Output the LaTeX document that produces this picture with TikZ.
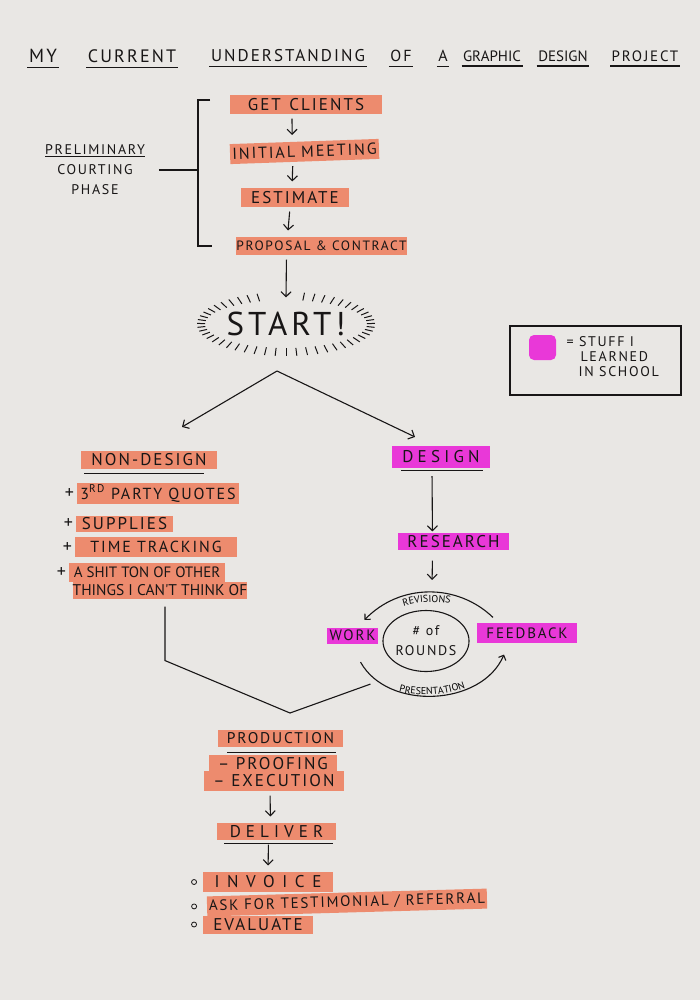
\documentclass[tikz,border=0pt]{standalone}
\usepackage{fontspec}
\newfontfamily\hand[LetterSpace=12]{PT Sans}
\newfontfamily\handtight{PT Sans}
\usetikzlibrary{positioning, arrows.meta, calc, shapes.geometric, decorations.text}

\definecolor{paper}{RGB}{233,231,228}
\definecolor{peach}{RGB}{237,139,110}
\definecolor{magentahl}{RGB}{233,56,216}
\definecolor{ink}{RGB}{24,22,22}

\begin{document}
\begin{tikzpicture}[x=1pt, y=-1pt, line width=1.1pt, color=ink,
        fs/.style={font=\hand\fontsize{#1pt}{#1pt}\selectfont},
        fst/.style={font=\handtight\fontsize{#1pt}{#1pt}\selectfont},
        note/.style={font=\hand\fontsize{14pt}{20pt}\selectfont, align=center},
        hl/.style={fill=peach, inner sep=0pt, fs=17},
        pk/.style={hl, fill=magentahl},
        arr/.style={-{Straight Barb[length=5pt, width=10pt]}, shorten <=4pt, shorten >=6pt},
        bul/.style={circle, draw, line width=0.8pt, minimum size=5pt, inner sep=0pt},
        tick/.style={line width=1pt},
    ]
    % paper
    \fill[paper] (0,0) rectangle (700,1000);

    % title, one underline per word
    \foreach \w/\x/\s/\f in {MY/43/19/\hand, CURRENT/132/18/\hand, UNDERSTANDING/288/17/\hand,
            OF/401/16/\hand, A/443/16/\hand, GRAPHIC/492/15/\handtight, DESIGN/563/15/\handtight, PROJECT/645/15/\hand}{
        \node[font=\f\fontsize{\s pt}{\s pt}\selectfont, inner sep=1pt] (t\w) at (\x,56) {\w};
        \draw ([yshift=-3pt]t\w.south west) -- ([yshift=-3pt]t\w.south east);
    }

    % preliminary courting phase
    \node[hl, minimum width=152pt, minimum height=19pt] (clients) at (306,104.5) {GET\enspace CLIENTS};
    \node[hl, minimum width=149pt, minimum height=20pt, rotate=2, fs=16] (meeting) at (304.5,151.5) {INITIAL MEETING};
    \node[hl, minimum width=108pt, minimum height=19pt] (estimate) at (295,197.5) {ESTIMATE};
    \node[hl, minimum width=171pt, minimum height=18pt, fs=13.5] (proposal) at (321.5,246) {PROPOSAL \& CONTRACT};
    \draw[arr] ([xshift=-14pt]clients.south) -- ([xshift=-12pt]meeting.north);
    \draw[arr] ([xshift=-12pt]meeting.south) -- ([xshift=-3pt]estimate.north);
    \draw[arr] ([xshift=-5pt]estimate.south) -- ([xshift=-34pt]proposal.north);

    \node[note] (phase) at (95,170) {\underline{PRELIMINARY}\\COURTING\\PHASE};
    \coordinate (brtop) at (198,100);
    \coordinate (brbot) at (198,246);
    \draw ([xshift=12pt]brtop) -- (brtop) -- (brbot) -- ([xshift=14pt]brbot);
    \draw ([xshift=10pt]phase.east) -- (phase.east -| brtop);

    % start
    \node[ellipse, minimum width=162pt, minimum height=48pt, fs=33, inner sep=0pt] (start) at (286,324) {START!};
    \foreach \a in {282,289,...,612}
        \draw[tick] ($(start.center)+({81*cos(\a)},{24*sin(\a)})$) -- ($(start.center)+({89*cos(\a)},{32*sin(\a)})$);
    \draw[arr, shorten >=0pt] ([xshift=-35pt]proposal.south) -- ([yshift=2pt]start.north);

    % legend
    \node[draw, minimum width=171pt, minimum height=69pt] (legend) at (595.5,360.5) {};
    \node[fill=magentahl, minimum width=27pt, minimum height=25pt, rounded corners=5pt, inner sep=0pt] (swatch) at (542.5,347.5) {};
    \node[font=\hand\fontsize{14pt}{15pt}\selectfont, align=left, anchor=west, inner sep=0pt] (learned) at (566,357)
        {= STUFF I\\\hspace{14pt}LEARNED\\\hspace{12pt}IN SCHOOL};

    % two branches
    \coordinate (split) at (277,371);
    \node[hl, minimum width=136pt, minimum height=18pt] (nondesign) at (149,459.5) {NON-DESIGN};
    \node[pk, minimum width=98pt, minimum height=22pt] (design) at (441,456.5) {\addfontfeatures{LetterSpace=25}DESIGN};
    \draw[arr, shorten <=0pt, shorten >=0pt] (split) -- ([xshift=33pt, yshift=23pt]nondesign.north);
    \draw[arr, shorten <=0pt, shorten >=0pt] (split) -- ([xshift=-26pt, yshift=8pt]design.north);
    \draw ([xshift=4pt, yshift=-4pt]nondesign.south west) -- ([xshift=-14pt, yshift=-4pt]nondesign.south east);
    \draw ([xshift=10pt, yshift=-2pt]design.south west) -- ([xshift=-8pt, yshift=-2pt]design.south east);

    % non-design list
    \node[hl, minimum width=162pt, minimum height=21pt, fs=16] (quotes) at (158,493.5) {3\textsuperscript{RD} PARTY QUOTES};
    \node[hl, minimum width=97pt, minimum height=16pt] (supplies) at (124.5,524) {SUPPLIES};
    \node[hl, minimum width=162pt, minimum height=20pt, fs=16] (tracking) at (156,547) {TIME TRACKING};
    \node[hl, minimum width=156pt, minimum height=19pt, fst=15] (things) at (147,572.5) {A SHIT TON OF OTHER};
    \node[hl, minimum width=170pt, minimum height=17pt, fst=15.5] (thingsb) at (160,590.5) {THINGS I CAN'T THINK OF};
    \foreach \n in {quotes, supplies, tracking, things}
        \node[fst=18, inner sep=1pt, left=1pt of \n] (p\n) {+};

    % design cycle
    \node[pk, minimum width=111pt, minimum height=17pt] (research) at (453.5,541.5) {RESEARCH};
    \node[ellipse, draw, minimum width=68pt, minimum height=61pt, inner sep=0pt, note] (rounds) at (426,641) {\# of\\ROUNDS};
    \node[pk, minimum width=51pt, minimum height=16pt, fs=15] (work) at (352.5,635.5) {WORK};
    \node[pk, minimum width=100pt, minimum height=20pt, fs=15] (feedback) at (527,633) {FEEDBACK};
    \draw[arr] ([xshift=-9pt, yshift=-4pt]design.south) -- ([xshift=-21pt, yshift=-5pt]research.north);
    \draw[arr] ([xshift=-21pt, yshift=-6pt]research.south) -- ([xshift=6pt, yshift=24pt]rounds.north);

    \coordinate (revS) at ([xshift=-34pt, yshift=5pt]feedback.north);
    \coordinate (revE) at ([xshift=12pt, yshift=7pt]work.north);
    \coordinate (presS) at ([xshift=8pt, yshift=-18pt]work.south);
    \coordinate (presE) at ([xshift=-23pt, yshift=-11pt]feedback.south);
    \draw[-{Straight Barb[length=4pt, width=8pt]}] (revS) to[bend right=45] (revE);
    \draw[-{Straight Barb[length=4pt, width=8pt]}] (presS) to[bend right=64] (presE);
    \path[decorate, decoration={text along path, text align=center,
            text={|\hand\fontsize{10pt}{10pt}\selectfont|REVISIONS}}]
        (388,615) .. controls (405,600) and (448,598) .. (467,610);
    \path[decorate, decoration={text along path, text align=center,
            text={|\hand\fontsize{10pt}{10pt}\selectfont|PRESENTATION}}]
        (383,685) .. controls (405,699) and (452,699) .. (481,680);

    % both branches meet
    \coordinate (merge) at (290,713);
    \draw ([xshift=5pt, yshift=-7pt]thingsb.south) -- ++(0,54) -- (merge);
    \draw ([xshift=18pt, yshift=-40pt]work.south) -- (merge);

    % production and delivery
    \node[hl, minimum width=125pt, minimum height=17pt, fs=15.5] (production) at (280.5,738.5) {PRODUCTION};
    \node[hl, minimum width=128pt, minimum height=17pt] (proofing) at (273,763.5) {\textendash\ PROOFING};
    \node[hl, minimum width=140pt, minimum height=20pt] (execution) at (274,781) {\textendash\ EXECUTION};
    \draw ([xshift=10pt, yshift=-5pt]production.south west) -- ([xshift=-8pt, yshift=-5pt]production.south east);
    \node[hl, minimum width=119pt, minimum height=17pt] (deliver) at (276.5,831.5) {\addfontfeatures{LetterSpace=30}DELIVER};
    \draw ([xshift=8pt, yshift=-3pt]deliver.south west) -- ([xshift=-4pt, yshift=-3pt]deliver.south east);
    \draw[arr] ([xshift=-4pt]execution.south) -- ([xshift=-6pt]deliver.north);

    \node[hl, minimum width=280pt, minimum height=20pt, rotate=1.6, fs=15] (ask) at (347,902.5) {ASK FOR TESTIMONIAL / REFERRAL};
    \node[hl, minimum width=130pt, minimum height=20pt] (invoice) at (268,882) {\addfontfeatures{LetterSpace=45}INVOICE};
    \node[hl, minimum width=110pt, minimum height=18pt] (evaluate) at (258,924.5) {EVALUATE};
    \draw[arr] ([xshift=-8pt]deliver.south) -- (invoice.north);
    \foreach \n/\d in {invoice/5.5, ask/9.5, evaluate/5.5}
        \node[bul, left=\d pt of \n] (b\n) {};
\end{tikzpicture}
\end{document}
